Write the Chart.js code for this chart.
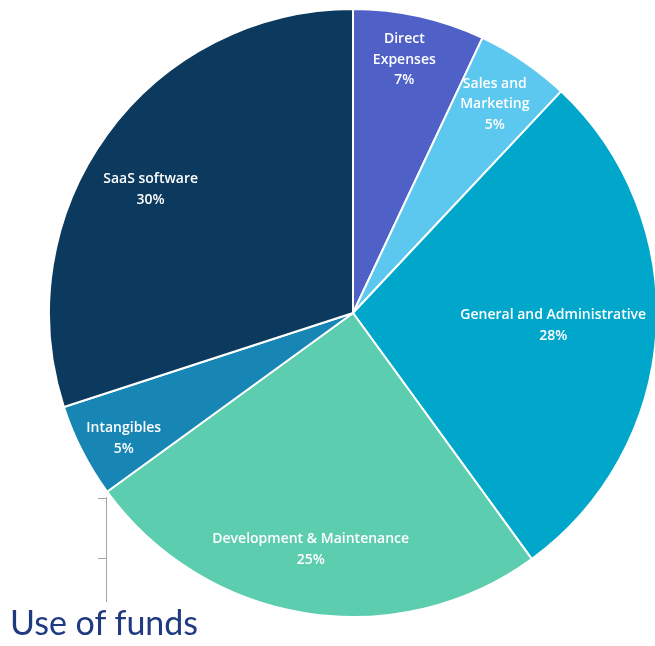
<!DOCTYPE html>
<html>
<head>
<meta charset="utf-8">
<script src="https://cdn.jsdelivr.net/npm/chart.js@4.4.0/dist/chart.umd.min.js"></script>
<style>
    html, body { margin: 0; padding: 0; background: #fff; overflow: hidden; width: 655px; height: 646px; }
    #wrap { position: absolute; left: 43px; top: 3px; width: 620px; height: 620px; }
    #title { position: absolute; left: 10px; top: 601px; font-family: Lato, sans-serif; font-size: 34px; color: #1f3a80; white-space: nowrap; }
    .brk { position: absolute; background: #a6a6a6; }
</style>
</head>
<body>
<div id="wrap"><canvas id="myChart" width="620" height="620"></canvas></div>
<div class="brk" style="left:106px; top:497px; width:1px; height:105px;"></div>
<div class="brk" style="left:98px; top:498px; width:9px; height:1px;"></div>
<div class="brk" style="left:98px; top:558px; width:9px; height:1px;"></div>
<div id="title">Use of funds</div>
<script>
// data
const categories = ['Direct Expenses', 'Sales and Marketing', 'General and Administrative', 'Development & Maintenance', 'Intangibles', 'SaaS software'];
const labelLines = [['Direct', 'Expenses'], ['Sales and', 'Marketing'], ['General and Administrative'], ['Development & Maintenance'], ['Intangibles'], ['SaaS software']];
const shares = [7, 5, 28, 25, 5, 30];
const colors = ['#4f60c7', '#5cc8ef', '#01a7cb', '#5dcdb0', '#1886b5', '#0c3a5e'];

// how far out (fraction of radius) each label sits, plus a small angle nudge
const labelRadius = [0.85, 0.83, 0.66, 0.79, 0.86, 0.78];
const labelNudge = [-0.02, 0, 0, 0.02, -0.03, -0.08];

const sliceLabels = {
    id: 'sliceLabels',
    afterDatasetsDraw(chart) {
        const ctx = chart.ctx;
        const meta = chart.getDatasetMeta(0);
        ctx.save();
        ctx.fillStyle = '#ffffff';
        ctx.font = '600 14px "Open Sans", sans-serif';
        ctx.textAlign = 'center';
        ctx.textBaseline = 'middle';
        meta.data.forEach(function(arc, i) {
            const mid = (arc.startAngle + arc.endAngle) / 2 + labelNudge[i];
            const r = arc.outerRadius * labelRadius[i];
            const x = arc.x + Math.cos(mid) * r;
            const y = arc.y + Math.sin(mid) * r;
            const lines = labelLines[i].concat([shares[i] + '%']);
            const lh = 20.5;
            const top = y - (lines.length - 1) * lh / 2;
            lines.forEach(function(t, j) {
                ctx.fillText(t, x, top + j * lh);
            });
        });
        ctx.restore();
    }
};

const ctx = document.getElementById('myChart').getContext('2d');
new Chart(ctx, {
    type: 'pie',
    data: {
        labels: categories,
        datasets: [{
            data: shares,
            backgroundColor: colors,
            borderColor: '#ffffff',
            borderWidth: 2
        }]
    },
    options: {
        responsive: false,
        animation: false,
        layout: { padding: 5 },
        plugins: {
            legend: { display: false },
            tooltip: { enabled: false }
        }
    },
    plugins: [sliceLabels]
});
</script>
</body>
</html>
